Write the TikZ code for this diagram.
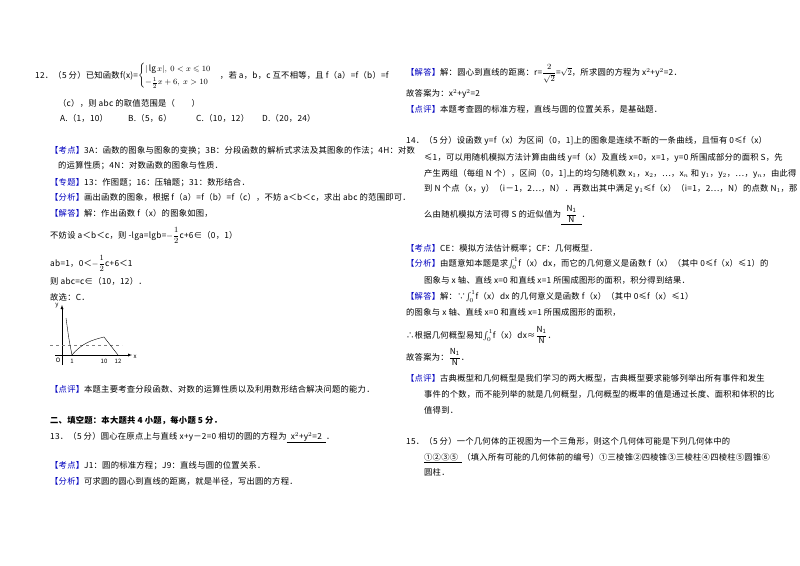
\documentclass[tikz,border=0pt]{standalone}
\usepackage{amsmath,amssymb}
\usepackage{fontspec}
\setmainfont{Noto Sans CJK SC}[LetterSpace=3]
\begin{document}
\begin{tikzpicture}[x=1pt,y=-1pt,
  t/.style={anchor=base west,inner sep=0,font=\fontsize{8.3}{10}\selectfont}]
\useasboundingbox (0,0) rectangle (800,565);
\fill[white] (0,0) rectangle (800,565);
\newcommand\tg[1]{\textcolor{blue!75!black}{【#1】}}
\newcommand\nn{\dfrac{\mathrm{N_1}}{\mathrm{N}}}
\newcommand\intg{$\int_{0}^{1}$}
% left column
\node[t] (l1) at (35,78) {12．（5 分）已知函数f(x)=$\begin{cases}|\lg x|,\ 0<x\leqslant 10\\[1pt] -\frac{1}{2}x+6,\ x>10\end{cases}$，若 a，b，c 互不相等，且 f（a）=f（b）=f};
\node[t] (l2) at (58,106) {（c），则 abc 的取值范围是（\qquad）};
\node[t] (oA) at (60,121) {A.（1，10）};
\node[t] (oB) at (128,121) {B.（5，6）};
\node[t] (oC) at (196,121) {C.（10，12）};
\node[t] (oD) at (262,121) {D.（20，24）};
\node[t] (l3) at (50,153) {\tg{考点}3A：函数的图象与图象的变换；3B：分段函数的解析式求法及其图象的作法；4H：对数};
\node[t] (l4) at (58,168) {的运算性质；4N：对数函数的图象与性质．};
\node[t] (l5) at (50,185) {\tg{专题}13：作图题；16：压轴题；31：数形结合．};
\node[t] (l6) at (50,200) {\tg{分析}画出函数的图象，根据 f（a）=f（b）=f（c），不妨 a＜b＜c，求出 abc 的范围即可．};
\node[t] (l7) at (50,216) {\tg{解答}解：作出函数 f（x）的图象如图，};
\node[t] (l8) at (50,238) {不妨设 a＜b＜c，则 -lga=lgb=$-\dfrac{1}{2}$c+6∈（0，1）};
\node[t] (l9) at (50,266) {ab=1，0＜$-\dfrac{1}{2}$c+6＜1};
\node[t] (l10) at (50,284) {则 abc=c∈（10，12）．};
\node[t] (l11) at (50,300) {故选：C．};
% graph
\draw[-latex] (55,355) -- (132,355) coordinate (xe);
\draw[-latex] (62,365) -- (62,305) coordinate (ye);
\node[font=\fontsize{6}{7}\selectfont\itshape] (ylab) at (57,306) {y};
\node[font=\fontsize{6}{7}\selectfont\itshape] (xlab) at (135,357) {x};
\node[font=\fontsize{6}{7}\selectfont\itshape] (o) at (58,360) {O};
\node[font=\fontsize{6}{7}\selectfont] (n1) at (72,361) {1};
\node[font=\fontsize{6}{7}\selectfont] (n10) at (104,361) {10};
\node[font=\fontsize{6}{7}\selectfont] (n12) at (118,361) {12};
\draw[gray,dashed] (50,345) -- (122,345);
\draw (66,318) .. controls (69,340) .. (72,355) .. controls (82,343) and (92,340) .. (104,337) -- (118,355);
\node[t] (l12) at (50,392) {\tg{点评}本题主要考查分段函数、对数的运算性质以及利用数形结合解决问题的能力．};
\node[t] (l13) at (50,423) {\bfseries 二、填空题：本大题共 4 小题，每小题 5 分．};
\node[t] (l14) at (50,439) {13．（5 分）圆心在原点上与直线 x+y－2=0 相切的圆的方程为\underline{\ \ x$^2$+y$^2$=2\ \ }．};
\node[t] (l15) at (50,468) {\tg{考点}J1：圆的标准方程；J9：直线与圆的位置关系．};
\node[t] (l16) at (50,484) {\tg{分析}可求圆的圆心到直线的距离，就是半径，写出圆的方程．};
% right column
\node[t] (r1) at (406,75) {\tg{解答}解：圆心到直线的距离：r=$\dfrac{2}{\sqrt2}$=$\sqrt2$，所求圆的方程为 x$^2$+y$^2$=2．};
\node[t] (r2) at (406,96) {故答案为：x$^2$+y$^2$=2};
\node[t] (r3) at (406,112) {\tg{点评}本题考查圆的标准方程，直线与圆的位置关系，是基础题．};
\node[t] (r4) at (406,143) {14．（5 分）设函数 y=f（x）为区间（0，1]上的图象是连续不断的一条曲线，且恒有 0≤f（x）};
\node[t] (r5) at (424,160) {≤1，可以用随机模拟方法计算由曲线 y=f（x）及直线 x=0，x=1，y=0 所围成部分的面积 S，先};
\node[t] (r6) at (424,176) {产生两组（每组 N 个），区间（0，1]上的均匀随机数 x$_1$，x$_2$，…，x$_n$ 和 y$_1$，y$_2$，…，y$_n$，由此得};
\node[t] (r7) at (424,191) {到 N 个点（x，y）（i－1，2…，N）．再数出其中满足 y$_1$≤f（x）（i=1，2…，N）的点数 N$_1$，那};
\node[t] (r8) at (424,217) {么由随机模拟方法可得 S 的近似值为\underline{\ \ $\nn$\ \ }．};
\node[t] (r9) at (406,251) {\tg{考点}CE：模拟方法估计概率；CF：几何概型．};
\node[t] (r10) at (406,266) {\tg{分析}由题意知本题是求\intg f（x）dx，而它的几何意义是函数 f（x）（其中 0≤f（x）≤1）的};
\node[t] (r11) at (424,283) {图象与 x 轴、直线 x=0 和直线 x=1 所围成图形的面积，积分得到结果．};
\node[t] (r12) at (406,299) {\tg{解答}解：∵\intg f（x）dx 的几何意义是函数 f（x）（其中 0≤f（x）≤1）};
\node[t] (r13) at (406,315) {的图象与 x 轴、直线 x=0 和直线 x=1 所围成图形的面积，};
\node[t] (r14) at (406,338) {∴根据几何概型易知\intg f（x）dx≈$\nn$．};
\node[t] (r15) at (406,360) {故答案为：$\nn$．};
\node[t] (r16) at (406,381) {\tg{点评}古典概型和几何概型是我们学习的两大概型，古典概型要求能够列举出所有事件和发生};
\node[t] (r17) at (424,397) {事件的个数，而不能列举的就是几何概型，几何概型的概率的值是通过长度、面积和体积的比};
\node[t] (r18) at (424,413) {值得到．};
\node[t] (r19) at (406,444) {15．（5 分）一个几何体的正视图为一个三角形，则这个几何体可能是下列几何体中的};
\node[t] (r20) at (424,460) {\underline{①②③⑤\ \ }（填入所有可能的几何体前的编号）①三棱锥②四棱锥③三棱柱④四棱柱⑤圆锥⑥};
\node[t] (r21) at (424,475) {圆柱．};
\end{tikzpicture}
\end{document}
